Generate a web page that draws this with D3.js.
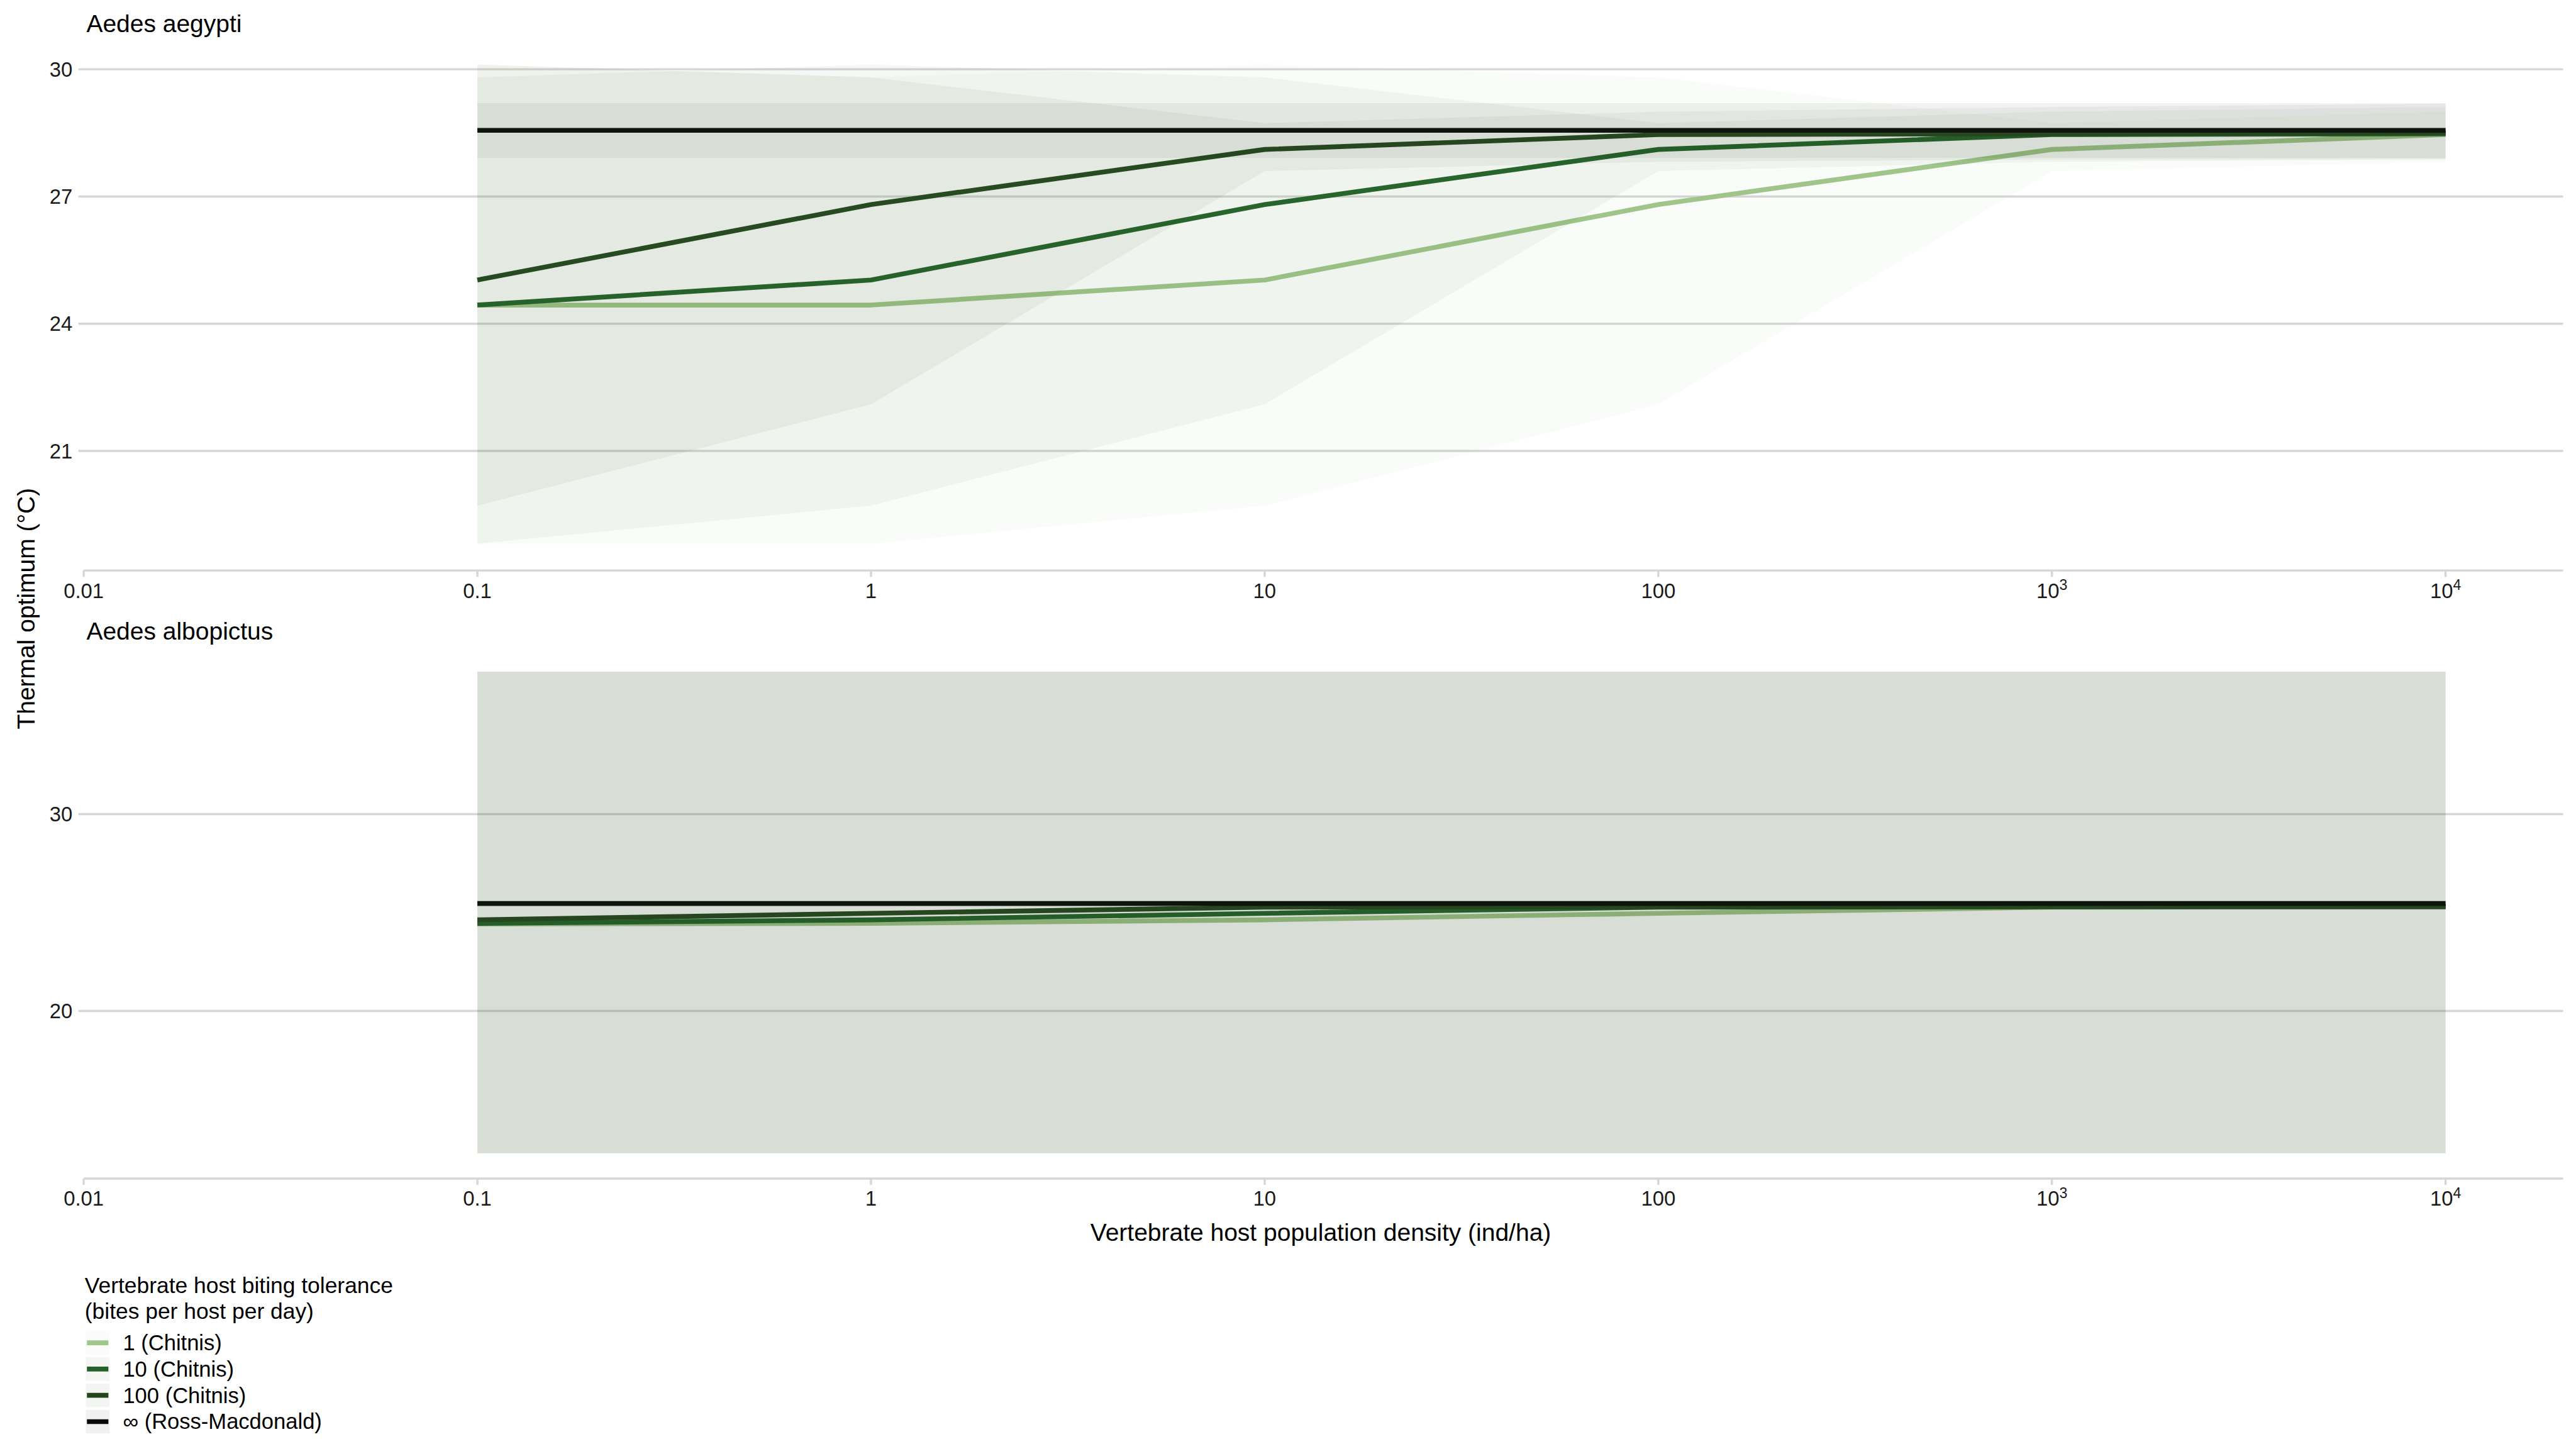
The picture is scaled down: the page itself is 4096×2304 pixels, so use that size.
<!DOCTYPE html>
<html><head><meta charset="utf-8">
<script src="https://cdn.jsdelivr.net/npm/d3@7"></script>
<style>html,body{margin:0;padding:0;background:#fff;} svg{display:block;}</style>
</head><body>
<script>
// ---------- data ----------
const densities = [0.1, 1, 10, 100, 1000, 10000];
const xTicks = [0.01, 0.1, 1, 10, 100, 1000, 10000];
const xTickLabels = ["0.01", "0.1", "1", "10", "100", "10^3", "10^4"];
const seriesNames = ["1 (Chitnis)", "10 (Chitnis)", "100 (Chitnis)", "\u221E (Ross-Macdonald)"];
const seriesColors = ["#a1c68b", "#22612a", "#24441c", "#060906"];

// Aedes aegypti
const aegMean1   = [24.44, 24.44, 25.03, 26.81, 28.11, 28.46];
const aegLow1    = [18.81, 18.81, 19.71, 22.10, 27.60, 27.82];
const aegHigh1   = [30.11, 29.81, 30.11, 29.81, 28.73, 29.00];
const aegMean10  = [24.44, 25.03, 26.81, 28.11, 28.46, 28.48];
const aegLow10   = [18.81, 19.71, 22.10, 27.60, 27.82, 27.87];
const aegHigh10  = [29.81, 30.11, 29.81, 28.73, 29.00, 29.11];
const aegMean100 = [25.03, 26.81, 28.11, 28.46, 28.48, 28.50];
const aegLow100  = [19.71, 22.10, 27.60, 27.82, 27.87, 27.89];
const aegHigh100 = [30.11, 29.81, 28.73, 29.00, 29.11, 29.19];
const aegMeanInf = [28.56, 28.56, 28.56, 28.56, 28.56, 28.56];
const aegLowInf  = [27.91, 27.91, 27.91, 27.91, 27.91, 27.91];
const aegHighInf = [29.20, 29.20, 29.20, 29.20, 29.20, 29.20];
const aegYTicks = [21, 24, 27, 30];

// Aedes albopictus
const albMean1   = [24.42, 24.45, 24.63, 24.96, 25.27, 25.29];
const albMean10  = [24.45, 24.63, 24.96, 25.27, 25.29, 25.30];
const albMean100 = [24.63, 24.96, 25.27, 25.29, 25.30, 25.30];
const albMeanInf = [25.46, 25.46, 25.46, 25.46, 25.46, 25.46];
const albLow     = [12.77, 12.77, 12.77, 12.77, 12.77, 12.77];
const albHigh    = [37.24, 37.24, 37.24, 37.24, 37.24, 37.24];
const albYTicks = [20, 30];

// ---------- drawing ----------
const FONT = "'Liberation Sans', Arial, Helvetica, sans-serif";
const GRID = "#d6d6d6";
const svg = d3.select("body").append("svg")
  .attr("width", 4096).attr("height", 2304)
  .attr("viewBox", "0 0 4800 2700");
svg.append("rect").attr("width", 4800).attr("height", 2700).attr("fill", "#fff");

const x = d3.scaleLog().domain([0.01, 1e4]).range([156, 4557]);
const panelLeft = 146, panelRight = 4776;
const RIB_ALPHA = 0.051;

function drawPanel(cfg) {
  const g = svg.append("g");
  const y = d3.scaleLinear().domain(cfg.yDomain).range(cfg.yRange);

  // gridlines
  g.append("g").selectAll("line").data(cfg.yTicks).join("line")
    .attr("x1", panelLeft).attr("x2", panelRight)
    .attr("y1", d => y(d)).attr("y2", d => y(d))
    .attr("stroke", GRID).attr("stroke-width", 4);

  // y tick labels
  g.append("g").selectAll("text").data(cfg.yTicks).join("text")
    .attr("x", 135).attr("y", d => y(d) + 13.8)
    .attr("text-anchor", "end")
    .attr("font-family", FONT).attr("font-size", 38.5).attr("fill", "#1a1a1a")
    .text(d => d);

  // lines (ribbons drawn on top, as in the reference)
  const line = d3.line().x((d, i) => x(densities[i])).y(d => y(d));
  cfg.means.forEach((m, i) => {
    g.append("path").attr("d", line(m))
      .attr("fill", "none").attr("stroke", seriesColors[i])
      .attr("stroke-width", 9).attr("stroke-linejoin", "round");
  });

  // ribbons
  const area = d3.area().x((d, i) => x(densities[i])).y0(d => y(d[0])).y1(d => y(d[1]));
  cfg.lows.forEach((lo, i) => {
    const pts = lo.map((v, j) => [v, cfg.highs[i][j]]);
    g.append("path").attr("d", area(pts))
      .attr("fill", seriesColors[i]).attr("fill-opacity", RIB_ALPHA);
  });

  // x axis line + ticks
  g.append("line").attr("x1", x(0.01)).attr("x2", panelRight)
    .attr("y1", cfg.axisY).attr("y2", cfg.axisY)
    .attr("stroke", GRID).attr("stroke-width", 4);
  g.append("g").selectAll("line").data(xTicks).join("line")
    .attr("x1", d => x(d)).attr("x2", d => x(d))
    .attr("y1", cfg.axisY).attr("y2", cfg.axisY + 12)
    .attr("stroke", GRID).attr("stroke-width", 4);

  // x tick labels
  const lab = g.append("g").selectAll("text").data(xTicks).join("text")
    .attr("x", d => x(d)).attr("y", cfg.axisY + 51)
    .attr("text-anchor", "middle")
    .attr("font-family", FONT).attr("font-size", 38.5).attr("fill", "#1a1a1a");
  lab.each(function(d, i) {
    const s = xTickLabels[i];
    const t = d3.select(this);
    if (s.includes("^")) {
      const [b, e] = s.split("^");
      t.append("tspan").text(b);
      t.append("tspan").attr("dy", -15).attr("font-size", 27).text(e);
    } else {
      t.text(s);
    }
  });

  // panel title
  g.append("text").attr("x", 161).attr("y", cfg.titleY)
    .attr("font-family", FONT).attr("font-size", 45.7).attr("fill", "#000")
    .text(cfg.title);
}

drawPanel({
  title: "Aedes aegypti", titleY: 60,
  yDomain: [30, 21], yRange: [129.1, 840.2], yTicks: aegYTicks,
  axisY: 1063,
  means: [aegMean1, aegMean10, aegMean100, aegMeanInf],
  lows: [aegLow1, aegLow10, aegLow100, aegLowInf],
  highs: [aegHigh1, aegHigh10, aegHigh100, aegHighInf]
});

drawPanel({
  title: "Aedes albopictus", titleY: 1192,
  yDomain: [30, 20], yRange: [1517, 1883.7], yTicks: albYTicks,
  axisY: 2196,
  means: [albMean1, albMean10, albMean100, albMeanInf],
  lows: [albLow, albLow, albLow, albLow],
  highs: [albHigh, albHigh, albHigh, albHigh]
});

// axis titles
svg.append("text")
  .attr("x", (panelLeft + panelRight) / 2).attr("y", 2312)
  .attr("text-anchor", "middle")
  .attr("font-family", FONT).attr("font-size", 45.7).attr("fill", "#000")
  .text("Vertebrate host population density (ind/ha)");
svg.append("text")
  .attr("transform", "translate(65,1134) rotate(-90)")
  .attr("text-anchor", "middle")
  .attr("font-family", FONT).attr("font-size", 45.7).attr("fill", "#000")
  .text("Thermal optimum (\u00B0C)");

// legend
const leg = svg.append("g");
leg.append("text").attr("x", 158).attr("y", 2409)
  .attr("font-family", FONT).attr("font-size", 41.5).attr("fill", "#000")
  .text("Vertebrate host biting tolerance");
leg.append("text").attr("x", 158).attr("y", 2457)
  .attr("font-family", FONT).attr("font-size", 41.5).attr("fill", "#000")
  .text("(bites per host per day)");
const itemCenters = [2502, 2551, 2600, 2649];
seriesNames.forEach((name, i) => {
  const cy = itemCenters[i];
  leg.append("rect").attr("x", 160).attr("y", cy - 22).attr("width", 44).attr("height", 44)
    .attr("fill", seriesColors[i]).attr("fill-opacity", RIB_ALPHA * 1.1);
  leg.append("line").attr("x1", 162).attr("x2", 202).attr("y1", cy).attr("y2", cy)
    .attr("stroke", seriesColors[i]).attr("stroke-width", 9);
  leg.append("text").attr("x", 229).attr("y", cy + 14)
    .attr("font-family", FONT).attr("font-size", 40.5).attr("fill", "#000")
    .text(name);
});
</script>
</body></html>
